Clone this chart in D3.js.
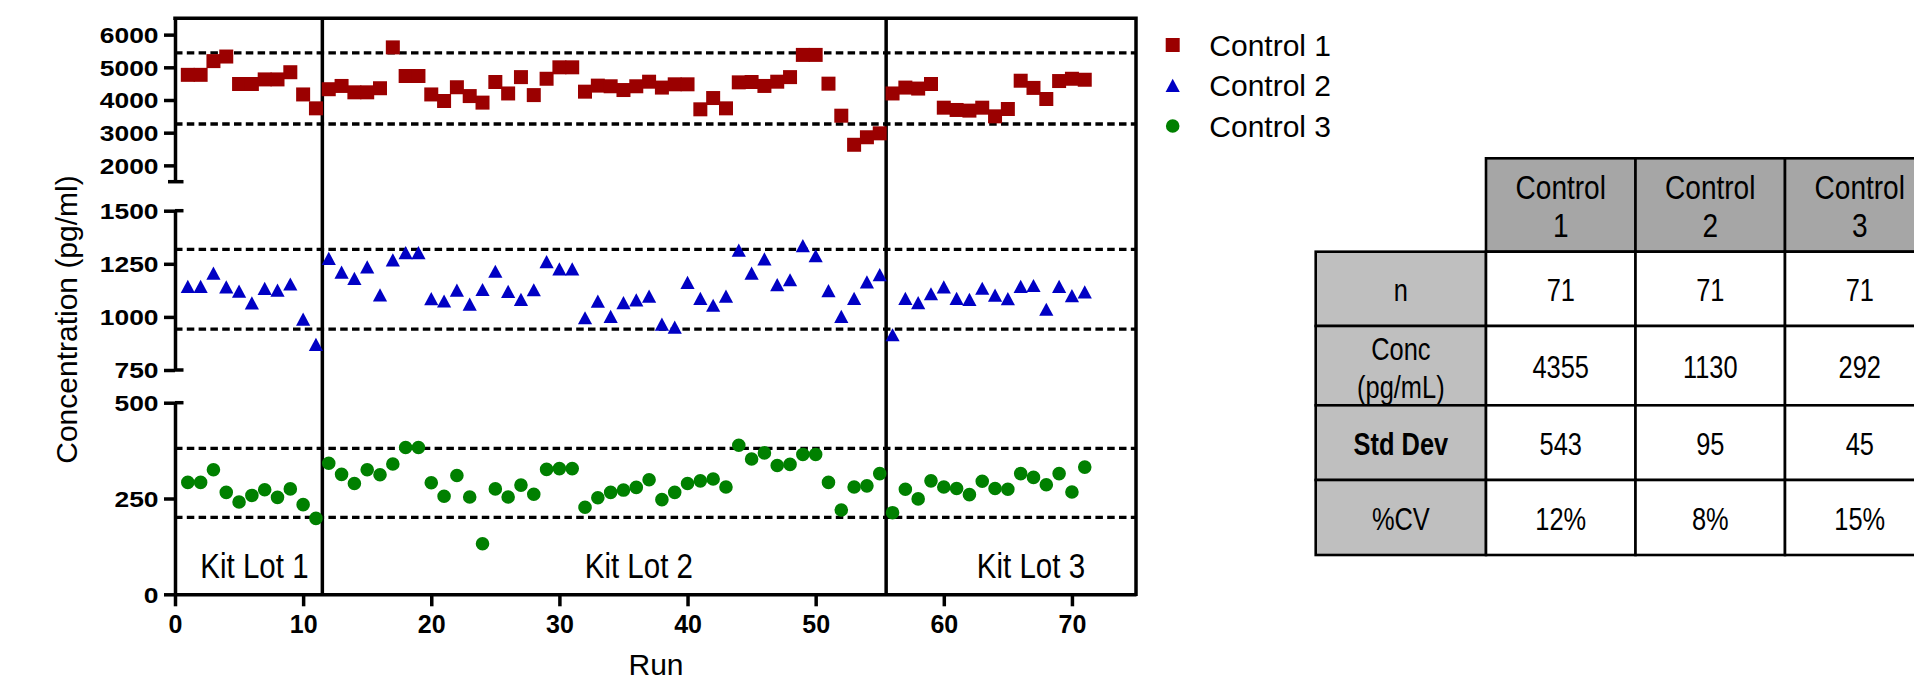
<!DOCTYPE html>
<html>
<head>
<meta charset="utf-8">
<script src="https://cdn.jsdelivr.net/npm/d3@7"></script>
<style>
  body { margin: 0; background: #fff; }
  svg { display: block; }
</style>
</head>
<body>
<div id="chart"></div>
<script>
// values, one per run (runs 1..71)
var control1 = [4770, 4770, 5190, 5330, 4490, 4490, 4630, 4630, 4850, 4170, 3745,
  4330, 4430, 4235, 4235, 4360, 5610, 4735, 4735, 4170, 3970, 4390, 4120, 3920, 4550,
  4200, 4700, 4150, 4650, 5000, 5000, 4255, 4440, 4420, 4305, 4420, 4560, 4380, 4480,
  4480, 3715, 4060, 3745, 4540, 4550, 4430, 4560, 4700, 5380, 5380, 4500, 3520, 2630,
  2860, 2980,
  4200, 4380, 4350, 4490, 3765, 3695, 3675, 3765, 3500, 3725, 4590, 4370, 4030, 4580,
  4650, 4620];
var control2 = [1143, 1143, 1205, 1140, 1120, 1065, 1133, 1125, 1154, 989, 870,
  1275, 1210, 1180, 1235, 1103, 1268, 1302, 1302, 1085, 1074, 1125, 1059, 1128, 1214,
  1119, 1082, 1127, 1259, 1225, 1225, 995, 1073, 1002, 1066, 1079, 1097, 965, 951,
  1162, 1086, 1054, 1097, 1313, 1205, 1272, 1151, 1174, 1335, 1287, 1123, 1002, 1086,
  1164, 1198,
  915, 1086, 1066, 1108, 1140, 1086, 1082, 1134, 1102, 1085, 1143, 1147, 1035, 1143,
  1099, 1117];
var control3 = [292, 292, 325, 266, 241, 258, 273, 253, 275, 234, 198,
  342, 313, 289, 325, 312, 340, 383, 383, 291, 256, 310, 254, 132, 275,
  254, 285, 261, 326, 328, 328, 227, 252, 266, 272, 279, 299, 247, 266,
  289, 296, 301, 280, 389, 353, 369, 336, 339, 365, 365, 292, 220, 280,
  283, 315,
  213, 274, 249, 296, 280, 276, 260, 295, 276, 274, 315, 305, 286, 315,
  267, 332];

// mean +/- 2SD limit lines
var limits1 = [3265, 5445];
var limits2 = [942, 1318];
var limits3 = [201, 381];

var seriesNames = ["Control 1", "Control 2", "Control 3"];
var lotNames = ["Kit Lot 1", "Kit Lot 2", "Kit Lot 3"];
var lotBreaks = [11.5, 55.5];
var lotLabelRuns = [6.2, 36.2, 66.8];

var xTicks = [0, 10, 20, 30, 40, 50, 60, 70];
var yTicksTop = [2000, 3000, 4000, 5000, 6000];
var yTicksMid = [750, 1000, 1250, 1500];
var yTicksBot = [0, 250, 500];

// table
var tableCols = ["Control 1", "Control 2", "Control 3"];
var tableRows = ["n", "Conc (pg/mL)", "Std Dev", "%CV"];
var nVals = [71, 71, 71];
var concVals = [4355, 1130, 292];
var sdVals = [543, 95, 45];
var cvVals = ["12%", "8%", "15%"];

var W = 1914, H = 683;
var colors = ["#9b0000", "#0000c4", "#008000"];
var font = "'Liberation Sans', Arial, sans-serif";
var lw = 3.5;

var svg = d3.select("#chart").append("svg")
    .attr("width", W)
    .attr("height", H);

var plotLeft = 175, plotRight = 1136, plotTop = 18.3, plotBottom = 594.3;

var x = d3.scaleLinear().domain([0, 75]).range([plotLeft, plotRight]);

// broken y axis: three stacked segments
var yTop = d3.scaleLinear().domain([1500, 6500]).range([181.7, plotTop]);
var yMid = d3.scaleLinear().domain([750, 1500]).range([370, 210.7]);
var yBot = d3.scaleLinear().domain([0, 500]).range([plotBottom, 402.7]);

var series = [
  {name: seriesNames[0], values: control1, y: yTop, limits: limits1, shape: "square"},
  {name: seriesNames[1], values: control2, y: yMid, limits: limits2, shape: "triangle"},
  {name: seriesNames[2], values: control3, y: yBot, limits: limits3, shape: "circle"}
];

function markerPath(shape) {
  if (shape == "square") return "M-7,-7H7V7H-7Z";
  if (shape == "triangle") return "M0,-6.8L7.1,6.4L-7.1,6.4Z";
  return d3.symbol().type(d3.symbolCircle).size(Math.PI * 6.8 * 6.8)();
}

// condensed text (no narrow face installed, so squeeze the regular one)
function narrowText(parent, cx, y, txt, size, squeeze) {
  return parent.append("text")
    .attr("transform", "translate(" + cx + "," + y + ") scale(" + (squeeze || 0.82) + ",1)")
    .attr("text-anchor", "middle")
    .style("font-family", font)
    .style("font-size", size + "px")
    .style("fill", "#000")
    .text(txt);
}

// dashed limit lines
series.forEach(function(s) {
  svg.selectAll(null)
    .data(s.limits)
    .enter()
    .append("line")
      .attr("x1", plotLeft)
      .attr("x2", plotRight)
      .attr("y1", function(d) { return s.y(d); })
      .attr("y2", function(d) { return s.y(d); })
      .attr("stroke", "#000")
      .attr("stroke-width", 3.3)
      .attr("stroke-dasharray", "7.5,4.3");
});

// kit lot dividers
svg.selectAll(".lotline")
  .data(lotBreaks)
  .enter()
  .append("line")
    .attr("class", "lotline")
    .attr("x1", function(d) { return x(d); })
    .attr("x2", function(d) { return x(d); })
    .attr("y1", plotTop)
    .attr("y2", plotBottom)
    .attr("stroke", "#000")
    .attr("stroke-width", lw);

// points
series.forEach(function(s, i) {
  svg.append("g")
    .selectAll("path")
    .data(s.values)
    .enter()
    .append("path")
      .attr("d", markerPath(s.shape))
      .attr("transform", function(d, j) {
        return "translate(" + x(j + 1) + "," + s.y(d) + ")";
      })
      .attr("fill", colors[i]);
});

// lot labels
lotNames.forEach(function(d, i) {
  narrowText(svg, x(lotLabelRuns[i]), 578.3, d, 36);
});

// frame top & right
svg.append("path")
  .attr("d", "M" + plotLeft + "," + plotTop + "H" + plotRight + "V" + plotBottom)
  .attr("fill", "none")
  .attr("stroke", "#000")
  .attr("stroke-width", lw)
  .attr("stroke-linecap", "square");

// y axis segments
function yAxisSegment(scale, ticks) {
  var g = svg.append("g")
    .attr("transform", "translate(" + plotLeft + ",0)")
    .call(d3.axisLeft(scale).tickValues(ticks).tickSize(11).tickSizeOuter(0).tickPadding(5)
      .tickFormat(d3.format("d")));
  g.select(".domain").attr("stroke-width", lw);
  g.selectAll(".tick line").attr("stroke-width", lw);
  g.selectAll(".tick text")
    .attr("x", -16.5 / 1.2)
    .attr("dy", "0.36em")
    .attr("transform", "scale(1.2,1)")
    .style("font-family", font)
    .style("font-weight", "bold")
    .style("font-size", "22px")
    .style("fill", "#000");
  return g;
}
yAxisSegment(yTop, yTicksTop);
yAxisSegment(yMid, yTicksMid);
yAxisSegment(yBot, yTicksBot);

// break caps at the segment ends
var caps = [
  {y: yTop.range()[0], x1: plotLeft - 7},
  {y: yMid.range()[1], x1: plotLeft},
  {y: yMid.range()[0], x1: plotLeft},
  {y: yBot.range()[1], x1: plotLeft}
];
svg.selectAll(".cap")
  .data(caps)
  .enter()
  .append("line")
    .attr("class", "cap")
    .attr("x1", function(d) { return d.x1; })
    .attr("x2", plotLeft + 8.5)
    .attr("y1", function(d) { return d.y; })
    .attr("y2", function(d) { return d.y; })
    .attr("stroke", "#000")
    .attr("stroke-width", lw);

// x axis
var xg = svg.append("g")
  .attr("transform", "translate(0," + plotBottom + ")")
  .call(d3.axisBottom(x).tickValues(xTicks).tickSize(12).tickSizeOuter(0).tickPadding(9));
xg.select(".domain").attr("stroke-width", lw);
xg.selectAll(".tick line").attr("stroke-width", lw);
xg.selectAll(".tick text")
  .style("font-family", font)
  .style("font-weight", "bold")
  .style("font-size", "25px")
  .style("fill", "#000");

// axis titles
svg.append("text")
  .attr("x", 656)
  .attr("y", 675)
  .attr("text-anchor", "middle")
  .style("font-family", font)
  .style("font-size", "30px")
  .text("Run");

svg.append("text")
  .attr("transform", "translate(77,319.5) rotate(-90)")
  .attr("text-anchor", "middle")
  .style("font-family", font)
  .style("font-size", "30px")
  .text("Concentration (pg/ml)");

// legend
var legend = svg.selectAll(".legend")
  .data(series)
  .enter()
  .append("g")
    .attr("class", "legend")
    .attr("transform", function(d, i) { return "translate(1172.7," + (45 + i * 40.5) + ")"; });

legend.append("path")
  .attr("d", function(d) { return markerPath(d.shape); })
  .attr("fill", function(d, i) { return colors[i]; });

legend.append("text")
  .attr("x", 36.6)
  .attr("y", 10.5)
  .style("font-family", font)
  .style("font-size", "30px")
  .style("fill", "#000")
  .text(function(d) { return d.name; });

// stats table
var tLeft = 1315.7, tColX = 1486, tColW = 149.5;
var tHeadTop = 158.3;
var rowEdges = [251.7, 326, 405.3, 480, 555];
var rowValues = [nVals, concVals, sdVals, cvVals];
var tg = svg.append("g");

tableCols.forEach(function(c, i) {
  var cx = tColX + tColW * i;
  tg.append("rect")
    .attr("x", cx).attr("y", tHeadTop)
    .attr("width", tColW).attr("height", rowEdges[0] - tHeadTop)
    .attr("fill", "#a6a6a6").attr("stroke", "#000").attr("stroke-width", 2.6);
  c.split(" ").forEach(function(part, k) {
    narrowText(tg, cx + tColW / 2, 199.3 + k * 38, part, 33, 0.85);
  });
});

tableRows.forEach(function(r, j) {
  var y0 = rowEdges[j], y1 = rowEdges[j + 1], cy = (y0 + y1) / 2;
  tg.append("rect")
    .attr("x", tLeft).attr("y", y0)
    .attr("width", tColX - tLeft).attr("height", y1 - y0)
    .attr("fill", "#bfbfbf").attr("stroke", "#000").attr("stroke-width", 2.6);
  if (r == "Conc (pg/mL)") {
    narrowText(tg, (tLeft + tColX) / 2, 360, "Conc", 31);
    narrowText(tg, (tLeft + tColX) / 2, 398.3, "(pg/mL)", 31);
  } else {
    narrowText(tg, (tLeft + tColX) / 2, cy + 12.5, r, 31)
      .style("font-weight", r == "Std Dev" ? "bold" : "normal");
  }

  rowValues[j].forEach(function(v, i) {
    var cx = tColX + tColW * i;
    tg.append("rect")
      .attr("x", cx).attr("y", y0)
      .attr("width", tColW).attr("height", y1 - y0)
      .attr("fill", "#fff").attr("stroke", "#000").attr("stroke-width", 2.6);
    narrowText(tg, cx + tColW / 2, cy + 12.5, v, 31);
  });
});
</script>
</body>
</html>
